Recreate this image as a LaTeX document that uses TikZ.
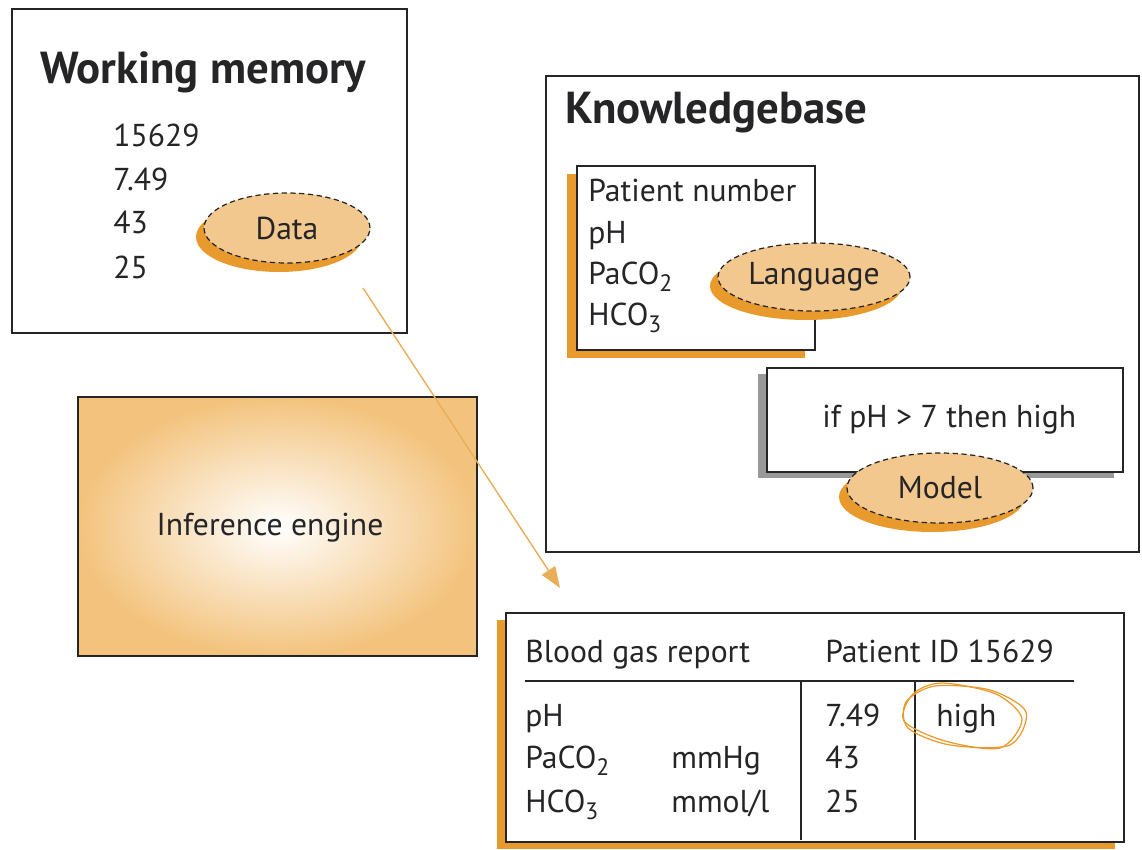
\documentclass[tikz,border=0pt]{standalone}
\usepackage{fontspec}
\setmainfont{PT Sans}
\usetikzlibrary{arrows.meta,fit,shadows,shapes.geometric}
\definecolor{kborange}{HTML}{E89A2C}
\definecolor{kbfill}{HTML}{F3C88E}
\definecolor{kbglow}{HTML}{F3C37D}
\definecolor{kbline}{HTML}{252528}
\definecolor{kbarrow}{HTML}{E9AE5A}
\newcommand{\chemsub}[1]{\raisebox{-0.45ex}{\fontsize{13.5}{14}\selectfont #1}}
\tikzset{
	box/.style={draw=kbline, line width=0.9pt, inner sep=0pt, fill=white},
	blob/.style={ellipse, draw=kbline, densely dashed, line width=0.7pt, fill=kbfill, inner sep=0pt,
		drop shadow={shadow xshift=-0.16cm, shadow yshift=-0.18cm, fill=kborange, opacity=1}},
	txt/.style={font=\fontsize{18}{21}\selectfont, text=kbline, inner sep=0pt},
	title/.style={font=\fontsize{25.5}{30}\selectfont\bfseries, text=kbline, inner sep=0pt},
	flow/.style={draw=kbarrow, line width=0.8pt, -{Triangle[length=12pt,width=9pt]}},
	hand/.style={draw=kborange, line width=0.7pt}
}
\begin{document}
\begin{tikzpicture}[x=0.02cm, y=-0.02cm]
	\useasboundingbox (0,0) rectangle (1142,849);
	%working memory
	\node[box, fit={(12,9) (407,333)}] (wm) {};
	\node[title, anchor=base west] (wmtitle) at (40,83) {Working memory};
	\foreach \val/\yb [count=\i] in {15629/146, 7.49/190, 43/233, 25/278} {
		\node[txt, anchor=base west] (wmval\i) at (113,\yb) {\val};
	}
	\node[blob, txt, minimum width=3.32cm, minimum height=1.4cm] (data) at (287,228) {Data};
	%inference engine
	\node[draw=kbline, line width=0.9pt, inner sep=0pt, inner color=white, outer color=kbglow,
		fit={(78,397) (477,656)}] (engine) {};
	\node[txt, anchor=base] (enginetext) at (270,535) {Inference engine};
	%knowledgebase
	\node[box, fit={(546,76) (1139,552)}] (kb) {};
	\node[title, anchor=base west] (kbtitle) at (565,123) {Knowledgebase};
	\node[box, fit={(577,166) (815,350)},
		drop shadow={shadow xshift=-0.2cm, shadow yshift=-0.16cm, fill=kborange, opacity=1}] (lang) {};
	\foreach \val/\yb [count=\i] in {Patient number/201, pH/243, {PaCO\chemsub{2}}/284, {HCO\chemsub{3}}/325} {
		\node[txt, anchor=base west] (langval\i) at (588,\yb) {\val};
	}
	\node[blob, txt, minimum width=3.84cm, minimum height=1.36cm] (language) at (814,277) {Language};
	\node[box, fit={(767,368) (1123,472)},
		drop shadow={shadow xshift=-0.18cm, shadow yshift=-0.12cm, fill=black!40, opacity=1}] (rule) {};
	\node[txt, anchor=base west] (ruletext) at (822,427) {if pH > 7 then high};
	\node[blob, txt, minimum width=3.72cm, minimum height=1.4cm] (model) at (940,488) {Model};
	%blood gas report
	\node[box, fit={(506,613) (1124,842)},
		drop shadow={shadow xshift=-0.18cm, shadow yshift=-0.14cm, fill=kborange, opacity=1}] (report) {};
	\node[txt, anchor=base west] (rephead) at (525,662) {Blood gas report};
	\node[txt, anchor=base west] (repid) at (825,662) {Patient ID 15629};
	\draw[kbline, line width=0.9pt] (525,681) -- (1074,681);
	\foreach \x in {801, 915} {
		\draw[kbline, line width=0.9pt] (\x,681) -- (\x,840);
	}
	\foreach \val/\yb [count=\i] in {pH/726, {PaCO\chemsub{2}}/768, {HCO\chemsub{3}}/812} {
		\node[txt, anchor=base west] (repname\i) at (525,\yb) {\val};
	}
	\foreach \val/\yb [count=\i] in {mmHg/768, {mmol/l}/812} {
		\node[txt, anchor=base west] (repunit\i) at (671,\yb) {\val};
	}
	\foreach \val/\yb [count=\i] in {7.49/726, 43/768, 25/812} {
		\node[txt, anchor=base west] (repval\i) at (825,\yb) {\val};
	}
	\node[txt, anchor=base west] (high) at (936,726) {high};
	\draw[hand] plot[smooth cycle] coordinates {(935,686) (990,690) (1026,712) (1010,745) (950,745) (908,728) (906,702)};
	\draw[hand] plot[smooth cycle] coordinates {(942,683) (996,694) (1022,719) (1000,748) (945,741) (904,721) (913,694)};
	%arrow
	\coordinate (arrfrom) at (363,288);
	\coordinate (arrto) at (560,588);
	\draw[flow] (arrfrom) -- (arrto);
\end{tikzpicture}
\end{document}
